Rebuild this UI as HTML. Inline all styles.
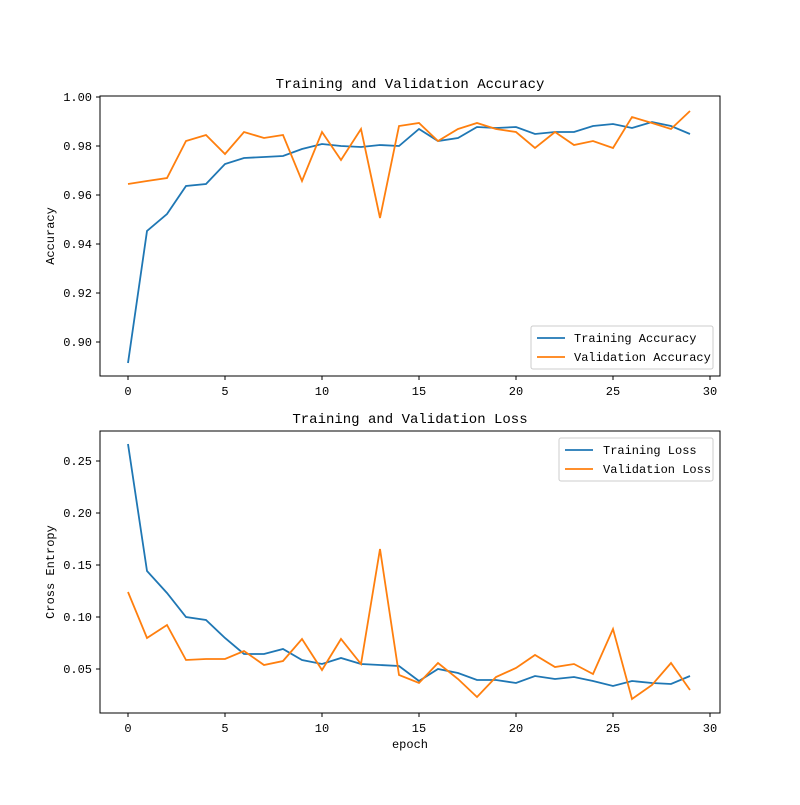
<!DOCTYPE html>
<html><head><meta charset="utf-8"><style>
body{margin:0;background:#fff}
svg text{font-family:"Liberation Mono","WenQuanYi Zen Hei",monospace;font-size:12px;fill:#000}
</style></head><body>
<svg width="800" height="800" xmlns="http://www.w3.org/2000/svg">
<rect width="800" height="800" fill="#fff"/>
<!-- Top axes -->
<rect x="100" y="96" width="620" height="280" fill="none" stroke="#000" stroke-width="1"/>
<text x="410" y="88" text-anchor="middle" font-size="14" style="font-size:14px">Training and Validation Accuracy</text>
<g stroke="#000">
<line x1="128" y1="376" x2="128" y2="380"/><line x1="225" y1="376" x2="225" y2="380"/><line x1="322" y1="376" x2="322" y2="380"/><line x1="419" y1="376" x2="419" y2="380"/><line x1="516" y1="376" x2="516" y2="380"/><line x1="613" y1="376" x2="613" y2="380"/><line x1="710" y1="376" x2="710" y2="380"/>
<line x1="96" y1="97" x2="100" y2="97"/><line x1="96" y1="146" x2="100" y2="146"/><line x1="96" y1="195" x2="100" y2="195"/><line x1="96" y1="244" x2="100" y2="244"/><line x1="96" y1="293" x2="100" y2="293"/><line x1="96" y1="342" x2="100" y2="342"/>
</g>
<g text-anchor="middle"><text x="128" y="395">0</text><text x="225" y="395">5</text><text x="322" y="395">10</text><text x="419" y="395">15</text><text x="516" y="395">20</text><text x="613" y="395">25</text><text x="710" y="395">30</text></g>
<g text-anchor="end"><text x="92" y="101">1.00</text><text x="92" y="150">0.98</text><text x="92" y="199">0.96</text><text x="92" y="248">0.94</text><text x="92" y="297">0.92</text><text x="92" y="346">0.90</text></g>
<text transform="translate(54,236) rotate(-90)" text-anchor="middle">Accuracy</text>
<polyline fill="none" stroke="#1f77b4" stroke-width="1.8" points="128,363 147,231 167,214 186,186 206,184 225,164 244,158 264,157 283,156 302,149 322,144 341,146 361,147 380,145 399,146 419,129 438,141 458,138 477,127 496,128 516,127 535,134 555,132 574,132 593,126 613,124 632,128 652,122 671,126 690,134"/>
<polyline fill="none" stroke="#ff7f0e" stroke-width="1.8" points="128,184 147,181 167,178 186,141 206,135 225,154 244,132 264,138 283,135 302,181 322,132 341,160 361,129 380,218 399,126 419,123 438,141 458,129 477,123 496,129 516,132 535,148 555,132 574,145 593,141 613,148 632,117 652,123 671,129 690,111"/>
<rect x="531" y="326" width="182" height="43" fill="#fff" stroke="#ccc" rx="2"/>
<line x1="537" y1="338" x2="565" y2="338" stroke="#1f77b4" stroke-width="1.8"/><text x="574" y="342">Training Accuracy</text>
<line x1="537" y1="357" x2="565" y2="357" stroke="#ff7f0e" stroke-width="1.8"/><text x="574" y="361">Validation Accuracy</text>
<!-- Bottom axes -->
<rect x="100" y="431" width="620" height="282" fill="none" stroke="#000" stroke-width="1"/>
<text x="410" y="423" text-anchor="middle" style="font-size:14px">Training and Validation Loss</text>
<g stroke="#000">
<line x1="128" y1="713" x2="128" y2="717"/><line x1="225" y1="713" x2="225" y2="717"/><line x1="322" y1="713" x2="322" y2="717"/><line x1="419" y1="713" x2="419" y2="717"/><line x1="516" y1="713" x2="516" y2="717"/><line x1="613" y1="713" x2="613" y2="717"/><line x1="710" y1="713" x2="710" y2="717"/>
<line x1="96" y1="461" x2="100" y2="461"/><line x1="96" y1="513" x2="100" y2="513"/><line x1="96" y1="565" x2="100" y2="565"/><line x1="96" y1="617" x2="100" y2="617"/><line x1="96" y1="669" x2="100" y2="669"/>
</g>
<g text-anchor="middle"><text x="128" y="732">0</text><text x="225" y="732">5</text><text x="322" y="732">10</text><text x="419" y="732">15</text><text x="516" y="732">20</text><text x="613" y="732">25</text><text x="710" y="732">30</text></g>
<text x="410" y="748" text-anchor="middle">epoch</text>
<g text-anchor="end"><text x="92" y="465">0.25</text><text x="92" y="517">0.20</text><text x="92" y="569">0.15</text><text x="92" y="621">0.10</text><text x="92" y="673">0.05</text></g>
<text transform="translate(54,572) rotate(-90)" text-anchor="middle">Cross Entropy</text>
<polyline fill="none" stroke="#1f77b4" stroke-width="1.8" points="128,444 147,571 167,593 186,617 206,620 225,638 244,654 264,654 283,649 302,660 322,664 341,658 361,664 380,665 399,666 419,681 438,669 458,673 477,680 496,680 516,683 535,676 555,679 574,677 593,681 613,686 632,681 652,683 671,684 690,676"/>
<polyline fill="none" stroke="#ff7f0e" stroke-width="1.8" points="128,592 147,638 167,625 186,660 206,659 225,659 244,651 264,665 283,661 302,639 322,670 341,639 361,664 380,549 399,675 419,683 438,663 458,679 477,697 496,677 516,668 535,655 555,667 574,664 593,674 613,629 632,699 652,685 671,663 690,690"/>
<rect x="559" y="438" width="154" height="43" fill="#fff" stroke="#ccc" rx="2"/>
<line x1="565" y1="450" x2="593" y2="450" stroke="#1f77b4" stroke-width="1.8"/><text x="603" y="454">Training Loss</text>
<line x1="565" y1="469" x2="593" y2="469" stroke="#ff7f0e" stroke-width="1.8"/><text x="603" y="473">Validation Loss</text>
</svg>
</body></html>
